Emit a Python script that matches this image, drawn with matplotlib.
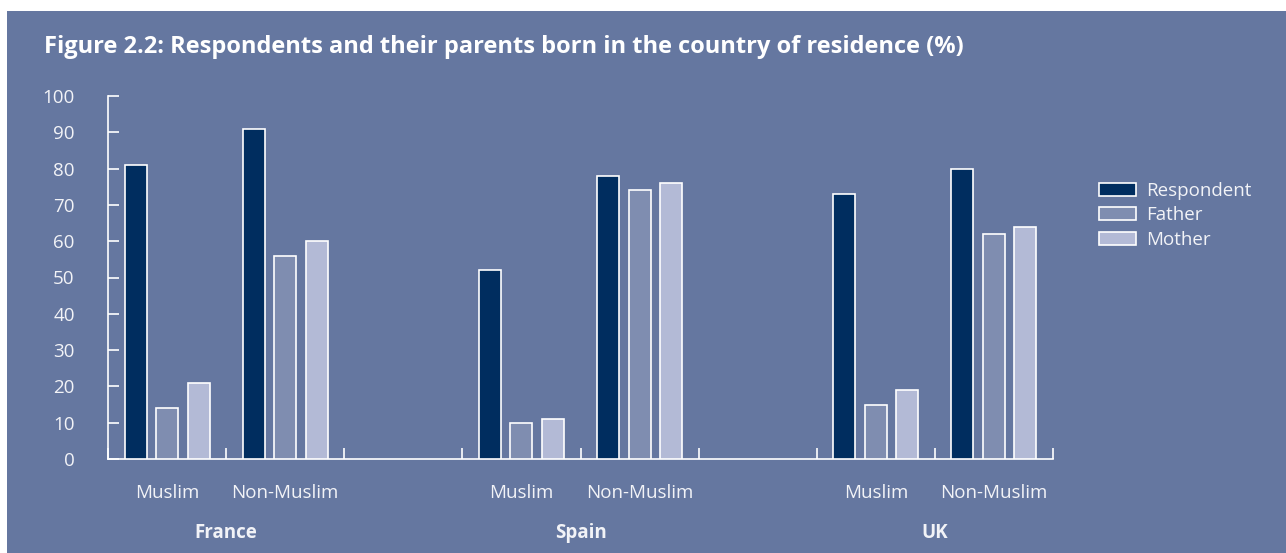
import matplotlib
matplotlib.use("Agg")
import matplotlib.pyplot as plt
from matplotlib.patches import Rectangle, Patch
import numpy as np

countries = ["France", "Spain", "UK"]
groups = ["Muslim", "Non-Muslim"]
series = ["Respondent", "Father", "Mother"]
respondent = [81, 91, 52, 78, 73, 80]
father = [14, 56, 10, 74, 15, 62]
mother = [21, 60, 11, 76, 19, 64]
yticks = [0, 10, 20, 30, 40, 50, 60, 70, 80, 90, 100]

BG = "#6577A0"
COLORS = ["#002D5F", "#7F8DB0", "#B3BAD6"]
TXT = "#F2F3F7"
FONT = "Open Sans"
FS = 13.5

W, H = 1286, 553
fig = plt.figure(figsize=(W / 100, H / 100), dpi=100)
fig.patch.set_facecolor("white")
fig.patches.append(Rectangle((7 / W, 0), 1 - 7 / W, (H - 11) / H, transform=fig.transFigure,
                             facecolor=BG, edgecolor="none", zorder=-10))

ax = fig.add_axes([108 / W, (H - 459) / H, (1053 - 108) / W, (459 - 96) / H])
ax.set_facecolor("none")
ax.set_zorder(5)

centers = [0.5, 1.5, 3.5, 4.5, 6.5, 7.5]
bw = 0.186
off = 0.267
for i, (vals, c) in enumerate(zip([respondent, father, mother], COLORS)):
    xs = np.array(centers) + (i - 1) * off
    ax.bar(xs, vals, width=bw, color=c, edgecolor="white", linewidth=1.2, zorder=3)

ax.set_xlim(0, 8)
ax.set_ylim(0, 100)
ax.set_xticks(range(9))
ax.set_xticklabels([])
ax.tick_params(axis="x", direction="in", length=8, width=1.2, color="white")
ax.set_yticks(yticks)
ax.set_yticklabels([str(v) for v in yticks], fontsize=FS, color=TXT, family=FONT)
ax.tick_params(axis="y", direction="in", length=8, width=1.2, color="white", pad=24)
for s in ["top", "right"]:
    ax.spines[s].set_visible(False)
for s in ["left", "bottom"]:
    ax.spines[s].set_color("white")
    ax.spines[s].set_linewidth(1.2)

tr = ax.get_xaxis_transform()
for k, cx in enumerate(centers):
    ax.text(cx, -0.094, groups[k % 2], transform=tr, ha="center", va="center",
            fontsize=FS, color=TXT, family=FONT)
for j, name in enumerate(countries):
    ax.text(1 + 3 * j, -0.204, name, transform=tr, ha="center", va="center",
            fontsize=FS, color=TXT, family=FONT, fontweight="bold")

fig.text(44 / W, 1 - 47 / H, "Figure 2.2: Respondents and their parents born in the country of residence (%)",
         ha="left", va="center", fontsize=17, fontweight="bold", color="white", family=FONT)

handles = [Patch(facecolor=c, edgecolor="white", linewidth=1.2, label=l) for c, l in zip(COLORS, series)]
leg = fig.legend(handles=handles, loc="upper left", bbox_to_anchor=(1095 / W, 1 - 178 / H),
                 frameon=False, fontsize=FS, handlelength=2.0, handleheight=0.7,
                 labelspacing=0.35, handletextpad=0.55, borderaxespad=0, borderpad=0.2)
for t in leg.get_texts():
    t.set_color(TXT)
    t.set_family(FONT)

fig.savefig("out.png", dpi=100, facecolor=fig.get_facecolor())
